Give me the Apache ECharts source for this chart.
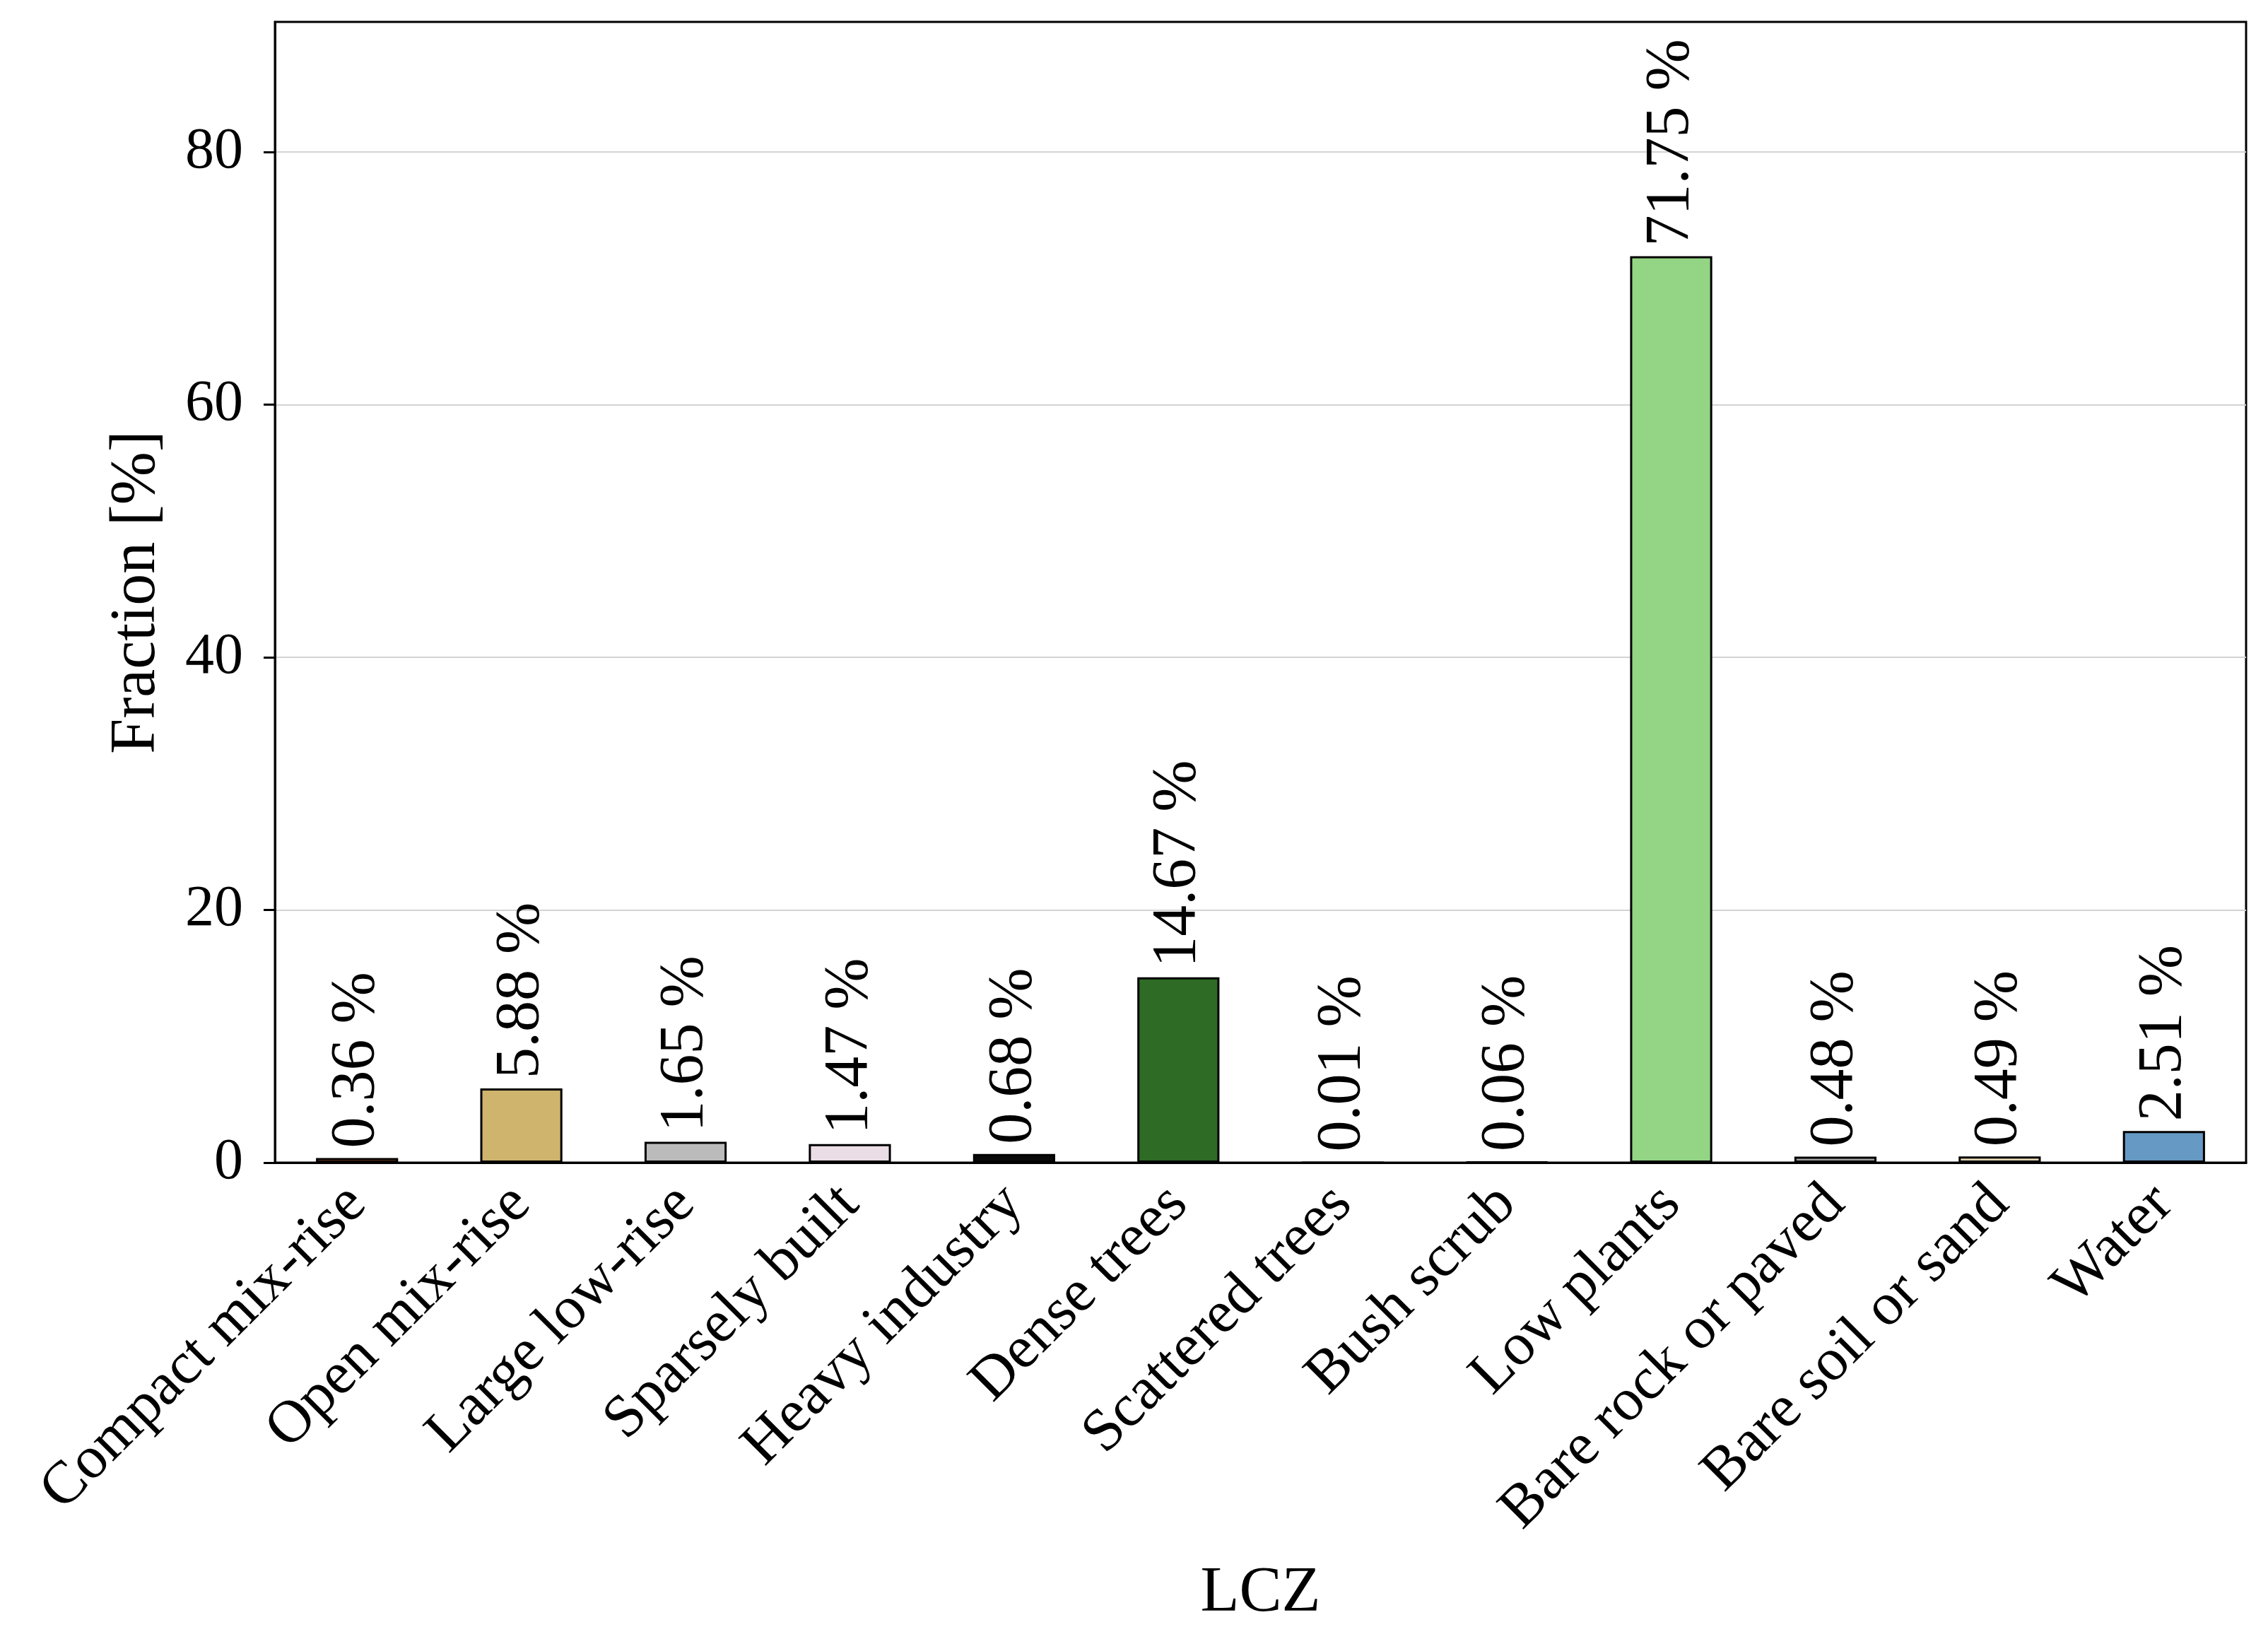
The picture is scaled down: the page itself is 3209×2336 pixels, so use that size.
<!DOCTYPE html>
<html>
<head>
<meta charset="utf-8">
<script src="https://cdn.jsdelivr.net/npm/echarts@6/dist/echarts.min.js"></script>
<style>
html,body{margin:0;padding:0;background:#fff;}
#chart{width:3209px;height:2336px;}
</style>
</head>
<body>
<div id="chart"></div>
<script>
const categories = ["Compact mix-rise","Open mix-rise","Large low-rise","Sparsely built","Heavy industry","Dense trees","Scattered trees","Bush scrub","Low plants","Bare rock or paved","Bare soil or sand","Water"];
const fractions = [0.36, 5.88, 1.65, 1.47, 0.68, 14.67, 0.01, 0.06, 71.75, 0.48, 0.49, 2.51];
const barColors = ["#d1622b","#cfb46e","#bbbbbb","#ebdde6","#0a0a0a","#2e6b25","#4e9a3e","#8fa04c","#93d585","#a0a0a0","#e5d5b3","#6699c3"];
const yTicks = [0, 20, 40, 60, 80];

const FONT = "Liberation Serif";
const chart = echarts.init(document.getElementById('chart'), null, {renderer:'canvas'});
chart.setOption({
  animation:false,
  backgroundColor:'#ffffff',
  textStyle:{fontFamily:FONT, color:'#000'},
  grid:{left:389, right:31, top:31, bottom:691, show:true, borderColor:'#000', borderWidth:3, backgroundColor:'transparent'},
  xAxis:{
    type:'category', data:categories, boundaryGap:true,
    name:'LCZ', nameLocation:'middle', nameGap:565,
    nameTextStyle:{fontFamily:FONT, fontSize:90, color:'#000'},
    axisLine:{lineStyle:{color:'#000', width:3}},
    axisTick:{alignWithLabel:true, length:16, lineStyle:{color:'#000', width:3}},
    axisLabel:{rotate:45, margin:46, fontFamily:FONT, fontSize:85, color:'#000', interval:0}
  },
  yAxis:{
    type:'value', min:0, max:90.3, interval:20,
    name:'Fraction [%]', nameLocation:'middle', nameGap:150, nameRotate:90,
    nameTextStyle:{fontFamily:FONT, fontSize:90, color:'#000'},
    axisLine:{show:true, lineStyle:{color:'#000', width:3}},
    axisTick:{show:true, length:16, customValues:yTicks, lineStyle:{color:'#000', width:3}},
    axisLabel:{margin:45, fontFamily:FONT, fontSize:82, color:'#000', customValues:yTicks,
      formatter:function(v){return yTicks.indexOf(v) >= 0 ? String(v) : '';}},
    splitLine:{show:true, lineStyle:{color:'#d3d3d3', width:2}}
  },
  series:[{
    type:'bar', barWidth:'50%',
    data:fractions.map(function(v,i){return {value:v, itemStyle:{color:barColors[i], borderColor:'#000', borderWidth:3}};}),
    label:{show:true, position:'top', rotate:90, align:'left', verticalAlign:'middle', distance:14,
      fontFamily:FONT, fontSize:88, color:'#000',
      formatter:function(p){return p.value.toFixed(2) + ' %';}}
  }]
});
</script>
</body>
</html>
